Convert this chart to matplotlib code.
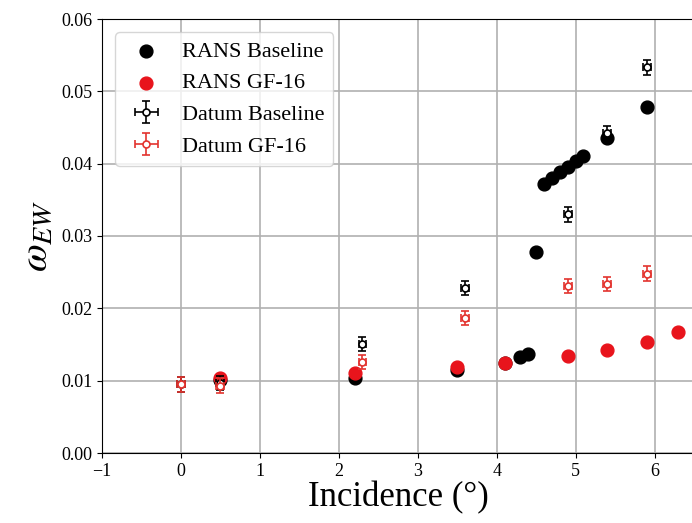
import matplotlib.pyplot as plt

plt.rcParams['font.family'] = ['Liberation Serif', 'DejaVu Serif']
plt.rcParams['mathtext.fontset'] = 'stix'

# RANS results
rans_base_x = [0.5, 2.2, 3.5, 4.1, 4.3, 4.4, 4.5, 4.6, 4.7, 4.8, 4.9, 5.0, 5.1, 5.4, 5.9]
rans_base_y = [0.0101, 0.0103, 0.0115, 0.0125, 0.0133, 0.0137, 0.0278, 0.0372,
               0.0380, 0.0388, 0.0395, 0.0403, 0.0411, 0.0435, 0.0479]
rans_gf_x = [0.5, 2.2, 3.5, 4.1, 4.9, 5.4, 5.9, 6.3]
rans_gf_y = [0.0103, 0.0111, 0.0119, 0.0124, 0.0134, 0.0142, 0.0154, 0.0167]

# experimental datum
datum_base_x = [0.0, 0.5, 2.3, 3.6, 4.9, 5.4, 5.9]
datum_base_y = [0.0095, 0.0097, 0.0151, 0.0228, 0.0330, 0.0442, 0.0533]
datum_gf_x = [0.0, 0.5, 2.3, 3.6, 4.9, 5.4, 5.9]
datum_gf_y = [0.0095, 0.0093, 0.0126, 0.0187, 0.0231, 0.0234, 0.0248]
x_err = 0.05
y_err = 0.001

fig = plt.figure(figsize=(6.92, 5.23), dpi=100)
ax = fig.add_axes([102 / 692, 70 / 523, 592 / 692, 434 / 523])

ax.scatter(rans_base_x, rans_base_y, s=85, color='black', label='RANS Baseline', zorder=3)
ax.scatter(rans_gf_x, rans_gf_y, s=85, color='#e8141c', label='RANS GF-16', zorder=4)
ax.errorbar(datum_base_x, datum_base_y, xerr=x_err, yerr=y_err, fmt='o', color='black',
            mfc='white', mec='black', ms=5, mew=1.2, capsize=3, elinewidth=1.2,
            label='Datum Baseline', zorder=5)
ax.errorbar(datum_gf_x, datum_gf_y, xerr=x_err, yerr=y_err, fmt='o', color='#e3342f',
            mfc='white', mec='#e3342f', ms=5, mew=1.2, capsize=3, elinewidth=1.2,
            label='Datum GF-16', zorder=6)

ax.set_xlim(-1, 6.5)
ax.set_ylim(0, 0.06)
ax.set_yticks([0, 0.01, 0.02, 0.03, 0.04, 0.05, 0.06])
ax.set_yticklabels(['0.00', '0.01', '0.02', '0.03', '0.04', '0.05', '0.06'])
ax.tick_params(labelsize=13)
ax.grid(True, color='#b0b0b0', linewidth=1.2)
ax.set_axisbelow(True)

ax.set_xlabel('Incidence (°)', fontsize=25, labelpad=1)
ax.set_ylabel(r'$\omega_{EW}$', fontsize=29, labelpad=4)

ax.legend(loc='upper left', fontsize=16, framealpha=0.8, handletextpad=0.6,
          borderaxespad=0.6, bbox_to_anchor=(0.0, 1.0))

fig.savefig('out.png', dpi=100)
